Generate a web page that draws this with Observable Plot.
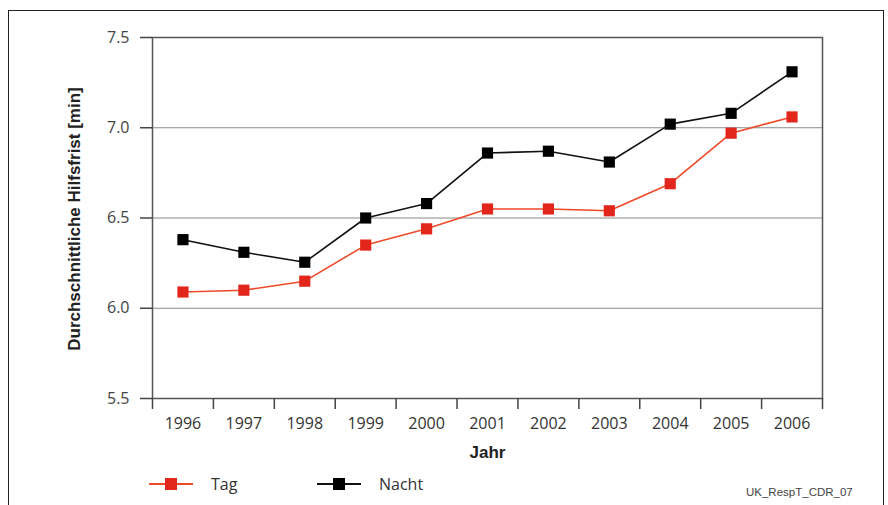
<!DOCTYPE html>
<html>
<head>
<meta charset="utf-8">
<script src="https://cdn.jsdelivr.net/npm/d3@7"></script>
<script src="https://cdn.jsdelivr.net/npm/@observablehq/plot@0.6"></script>
<style>
  html, body { margin: 0; padding: 0; background: #fff; overflow: hidden; }
  #wrap { position: relative; width: 888px; height: 505px; font-family: "Open Sans", sans-serif; }
  #border { position: absolute; left: 8px; top: 10px; width: 876px; height: 520px; border: 1.5px solid #222; box-sizing: border-box; }
  #chart { position: absolute; left: 0; top: 0; }
  .leg { position: absolute; top: 472px; height: 24px; display: flex; align-items: center; font-size: 16px; color: #333; }
  .leg span { margin-left: 18px; }
  #caption { position: absolute; left: 746px; top: 486px; font-family: "Liberation Sans", Arial, sans-serif; font-size: 11.5px; color: #444; }
</style>
</head>
<body>
<div id="wrap">
  <div id="border"></div>
  <div id="chart"></div>
  <div id="legend"></div>
  <div id="caption">UK_RespT_CDR_07</div>
</div>
<script>
const years = [1996, 1997, 1998, 1999, 2000, 2001, 2002, 2003, 2004, 2005, 2006];
const tag   = [6.09, 6.10, 6.15, 6.35, 6.44, 6.55, 6.55, 6.54, 6.69, 6.97, 7.06];
const nacht = [6.38, 6.31, 6.255, 6.50, 6.58, 6.86, 6.87, 6.81, 7.02, 7.08, 7.31];
const yTicks = [5.5, 6.0, 6.5, 7.0, 7.5];
const gridValues = [6.0, 6.5, 7.0];
const seriesNames = ["Tag", "Nacht"];
const lineColors = ["#ee4a28", "#111111"];
const markColors = ["#e2261c", "#000000"];
const yLabel = "Durchschnittliche Hilfsfrist [min]";
const xLabel = "Jahr";

const data = [];
years.forEach((y, i) => {
  data.push({year: y, value: tag[i], series: seriesNames[0]});
  data.push({year: y, value: nacht[i], series: seriesNames[1]});
});
const bounds = years.map(y => y - 0.5).concat([years[years.length - 1] + 0.5]);

const chart = Plot.plot({
  width: 888,
  height: 505,
  marginLeft: 152,
  marginRight: 66,
  marginTop: 37,
  marginBottom: 107,
  style: {fontFamily: "Open Sans", fontSize: "16px", color: "#333", background: "transparent"},
  x: {type: "linear", domain: [bounds[0], bounds[bounds.length - 1]]},
  y: {domain: [5.5, 7.5]},
  color: {domain: seriesNames, range: lineColors},
  marks: [
    Plot.ruleY(gridValues, {stroke: "#8a8a8a", strokeWidth: 1}),
    Plot.frame({stroke: "#555", strokeWidth: 1.5}),
    Plot.axisY({ticks: yTicks, tickSize: 12, tickPadding: 11, tickFormat: d3.format(".1f"), label: null, fontSize: 16, color: "#444", strokeWidth: 1.5}),
    Plot.axisX({ticks: bounds, tickSize: 11, tickFormat: () => "", label: null, color: "#444", strokeWidth: 1.5}),
    Plot.axisX({ticks: years, tickSize: 0, tickPadding: 19, tickFormat: d => String(d), label: null, fontSize: 16, color: "#333"}),
    Plot.text([yLabel], {frameAnchor: "left", dx: -78, dy: 1, rotate: -90, textAnchor: "middle", lineAnchor: "middle", fontSize: 17, fontWeight: "bold", fontFamily: "Liberation Sans", fill: "#222"}),
    Plot.text([xLabel], {frameAnchor: "bottom", dy: 54, lineAnchor: "middle", textAnchor: "middle", fontSize: 17, fontWeight: "bold", fontFamily: "Liberation Sans", fill: "#222"}),
    Plot.line(data, {x: "year", y: "value", z: "series", stroke: "series", strokeWidth: 1.6}),
    Plot.dot(data, {x: "year", y: "value", symbol: "square", r: 6.3, fill: d => markColors[seriesNames.indexOf(d.series)], stroke: "none"})
  ]
});
document.getElementById("chart").appendChild(chart);

// legend
const legend = document.getElementById("legend");
const legLefts = [149, 317];
seriesNames.forEach((name, i) => {
  const div = document.createElement("div");
  div.className = "leg";
  div.style.left = legLefts[i] + "px";
  div.innerHTML = `<svg width="44" height="24"><line x1="0" x2="44" y1="12" y2="12" stroke="${lineColors[i]}" stroke-width="2"/><rect x="16" y="6" width="12" height="12" fill="${markColors[i]}"/></svg><span>${name}</span>`;
  legend.appendChild(div);
});
</script>
</body>
</html>
